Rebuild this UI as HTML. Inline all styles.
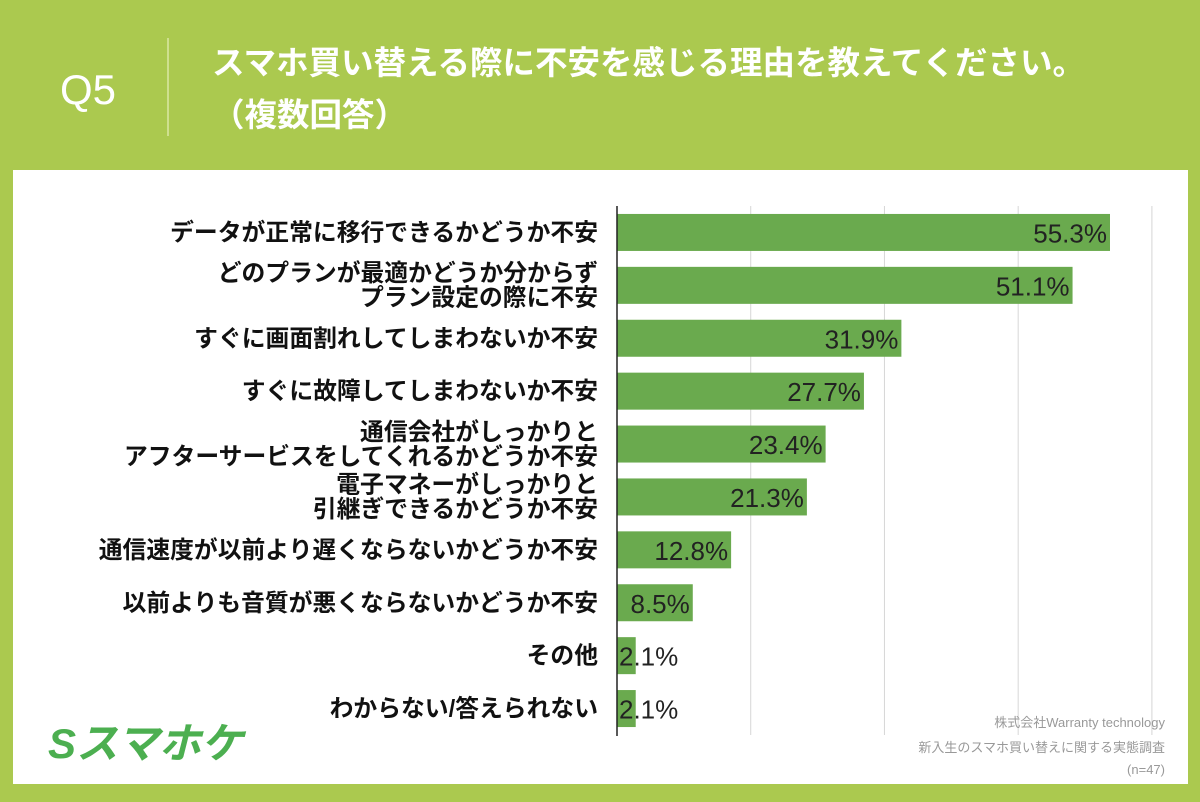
<!DOCTYPE html>
<html><head><meta charset="utf-8"><style>
body{margin:0;width:1200px;height:802px;background:#abc94f;font-family:"Liberation Sans","Noto Sans CJK JP",sans-serif;position:relative;overflow:hidden}
#q{position:absolute;left:60px;top:66px;color:#fff;font-size:42px}
#sep{position:absolute;left:167px;top:38px;width:2px;height:98px;background:#cfe08f}
#title{position:absolute;left:212px;top:37px;color:#fff;font-size:32.5px;line-height:52px;font-weight:bold;white-space:nowrap}
#panel{position:absolute;left:13px;top:170px;width:1175px;height:614px;background:#fff}
svg{position:absolute;left:0;top:0}
</style></head><body>
<div id="q">Q5</div>
<div id="sep"></div>
<div id="title">スマホ買い替える際に不安を感じる理由を教えてください。<br>（複数回答）</div>
<div id="panel"></div>
<svg id="c" width="1200" height="802"></svg>
<script>
const categories=[["データが正常に移行できるかどうか不安"],["どのプランが最適かどうか分からず","プラン設定の際に不安"],["すぐに画面割れしてしまわないか不安"],["すぐに故障してしまわないか不安"],["通信会社がしっかりと","アフターサービスをしてくれるかどうか不安"],["電子マネーがしっかりと","引継ぎできるかどうか不安"],["通信速度が以前より遅くならないかどうか不安"],["以前よりも音質が悪くならないかどうか不安"],["その他"],["わからない/答えられない"]];
const values=[55.3,51.1,31.9,27.7,23.4,21.3,12.8,8.5,2.1,2.1];
const gridTicks=[15,30,45,60];
const NS="http://www.w3.org/2000/svg";
const svg=document.getElementById('c');
const x0=617,pxPer=8.915,yTop=206,step=52.9,bh=37;
const xs=v=>x0+v*pxPer;
const yc=i=>yTop+step*i+step/2;
function mk(t,a){const e=document.createElementNS(NS,t);for(const k in a)e.setAttribute(k,a[k]);svg.appendChild(e);return e;}
gridTicks.forEach(t=>{
 const l=mk('line',{x1:xs(t),x2:xs(t),y1:206,y2:735,stroke:'#d6d6d6','stroke-width':1});
 
 
});
values.forEach((v,i)=>{
 const r=mk('rect',{x:x0,y:yc(i)-bh/2,width:v*pxPer,height:bh,fill:'#6aaa4e'});
 
 
 const tx=v<5?x0+2:xs(v)-3;
 const t=mk('text',{x:tx,y:yc(i)+10,'text-anchor':v<5?'start':'end','font-size':26,fill:'#222'});
 t.textContent=v.toFixed(1)+'%';
 
 
 const lines=categories[i];
 lines.forEach((s,j)=>{
  const ly=yc(i)+8+(j-(lines.length-1)/2)*24.5;
  const lt=mk('text',{x:598,y:ly,'text-anchor':'end','font-size':23.8,'font-weight':'bold',fill:'#111'});
  lt.textContent=s;
  
  
 });
});
const ax=mk('line',{x1:x0,x2:x0,y1:206,y2:736,stroke:'#222','stroke-width':1.5});


const lg=mk('text',{x:48,y:758,'font-size':42,'font-weight':'bold',fill:'#4caf50','font-style':'italic'});
lg.textContent='Sスマホケ';


[['株式会社Warranty technology',727],['新入生のスマホ買い替えに関する実態調査',752],['(n=47)',774]].forEach((s,k)=>{
 const t=mk('text',{x:1165,y:s[1],'text-anchor':'end','font-size':13,fill:'#999'});
 t.textContent=s[0];
 
 
});
</script>
</body></html>
